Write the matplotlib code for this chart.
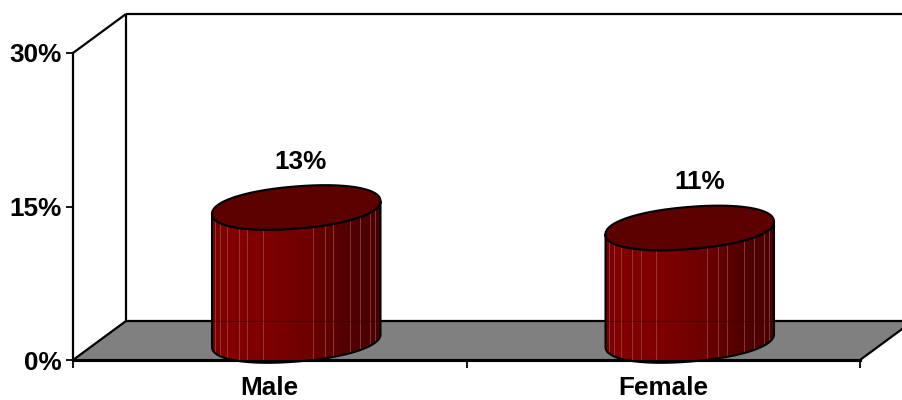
import numpy as np
import matplotlib
matplotlib.use("Agg")
import matplotlib.pyplot as plt
from matplotlib.patches import Polygon
from matplotlib.colors import LinearSegmentedColormap

categories = ["Male", "Female"]
values = [13, 11]
value_labels = ["13%", "11%"]
y_ticks = [0, 15, 30]
y_tick_labels = ["0%", "15%", "30%"]

plt.rcParams["font.family"] = ["Liberation Sans", "DejaVu Sans"]
W, H = 902, 400
fig = plt.figure(figsize=(W / 100, H / 100), dpi=100)
fig.patch.set_facecolor("white")
ax = fig.add_axes([73 / W, 40 / H, 787 / W, 307 / H])
ax.set_xlim(0, 2)
ax.set_ylim(0, 30)
ax.patch.set_visible(False)

SX = 787 / 2      # px per category
SY = 307 / 30     # px per percent
DEPTH_X = 53 / SX
DEPTH_Y = 39 / SY
K = dict(color="black", clip_on=False, solid_capstyle="butt")

# floor
floor = Polygon([(0, 0), (2, 0), (2 + DEPTH_X, DEPTH_Y), (DEPTH_X, DEPTH_Y)],
                closed=True, facecolor="#808080", edgecolor="none", clip_on=False, zorder=1)
ax.add_patch(floor)
ax.plot([0, 2], [0, 0], lw=2.2, zorder=2, **K)
ax.plot([2, 2 + DEPTH_X], [0, DEPTH_Y], lw=1.6, zorder=2, **K)
ax.plot([DEPTH_X, 2 + DEPTH_X], [DEPTH_Y, DEPTH_Y], lw=1.6, zorder=2, **K)
ax.plot([0, DEPTH_X], [0, DEPTH_Y], lw=1.6, zorder=2, **K)
# walls
ax.plot([DEPTH_X, DEPTH_X], [DEPTH_Y, 30 + DEPTH_Y], lw=1.6, zorder=2, **K)
ax.plot([DEPTH_X, 2 + DEPTH_X], [30 + DEPTH_Y, 30 + DEPTH_Y], lw=1.6, zorder=2, **K)
ax.plot([0, DEPTH_X], [30, 30 + DEPTH_Y], lw=1.6, zorder=2, **K)

# cylinders
A, B, PHI, ROUND = 84.5, 21.0, np.radians(4.7), 2.15
shade = LinearSegmentedColormap.from_list(
    "cyl", [(0, "#700000"), (0.06, "#820000"), (0.35, "#7c0000"), (0.6, "#6c0000"),
            (0.8, "#520000"), (1, "#480000")])
stripe_pos = [0.02, 0.05, 0.09, 0.16, 0.21, 0.3, 0.6, 0.67, 0.72, 0.82, 0.88, 0.94, 0.97]


def ellipse(cx, val):
    t = np.linspace(0, 2 * np.pi, 361)[:-1]
    c = np.sign(np.cos(t)) * np.abs(np.cos(t)) ** (2 / ROUND)
    s = np.sign(np.sin(t)) * np.abs(np.sin(t)) ** (2 / ROUND)
    dx = A * c * np.cos(PHI) - B * s * np.sin(PHI)
    dy = A * c * np.sin(PHI) + B * s * np.cos(PHI)
    return cx + dx / SX, val + dy / SY


for i, (cat, val, lab) in enumerate(zip(categories, values, value_labels)):
    cx = i + 0.5 + DEPTH_X / 2
    base = DEPTH_Y / 2
    top = val + DEPTH_Y / 2
    xt, yt = ellipse(cx, top)
    xb, yb = ellipse(cx, base)
    il, ir = int(np.argmin(xt)), int(np.argmax(xt))
    # lower arc from the left tangent point through the bottom to the right one
    idx = np.arange(il, ir + 361 if ir < il else ir + 1) % 360
    body = np.vstack([np.column_stack([xt[idx], yt[idx]]),
                      np.column_stack([xb[idx[::-1]], yb[idx[::-1]]])])
    outline = Polygon(body, closed=True, facecolor="none", edgecolor="black",
                      lw=1.5, clip_on=False, zorder=6, joinstyle="round")
    clip = Polygon(body, closed=True, transform=ax.transData)
    xl, xr = xt.min(), xt.max()
    xe = np.linspace(xl, xr, 120)
    ye = np.array([yb.min(), yt.max()])
    g = ax.pcolormesh(xe, ye, (0.5 * (xe[:-1] + xe[1:]) - xl)[None, :] / (xr - xl),
                      cmap=shade, vmin=0, vmax=1, zorder=4, rasterized=True)
    g.set_clip_path(clip)
    g.set_clip_on(True)
    for s in stripe_pos:
        ln, = ax.plot([xl + s * (xr - xl)] * 2, [yb.min(), yt.max()], color="#b06060",
                      lw=0.7, alpha=0.55, zorder=5)
        ln.set_clip_path(clip)
    # faint seam where the back floor line meets the cylinder
    sm, = ax.plot([xl, xr], [DEPTH_Y, DEPTH_Y], color="#400000", lw=0.8, alpha=0.5, zorder=5)
    sm.set_clip_path(clip)
    ax.add_patch(outline)
    ax.add_patch(Polygon(np.column_stack([xt, yt]), closed=True, facecolor="#5c0000",
                         edgecolor="black", lw=1.5, clip_on=False, zorder=7))
    ax.annotate(lab, (cx, top), xytext=([3, 7][i], 33), textcoords="offset points",
                ha="center", va="center", fontsize=18.8, fontweight="bold", zorder=8)

# axes
for s in ("top", "right"):
    ax.spines[s].set_visible(False)
ax.spines["left"].set_linewidth(1.6)
ax.spines["left"].set_zorder(3)
ax.spines["bottom"].set_linewidth(2.2)
ax.spines["bottom"].set_zorder(3)
ax.set_yticks(y_ticks)
ax.set_yticklabels(y_tick_labels, fontsize=18.8, fontweight="bold")
ax.tick_params(axis="y", length=5, width=1.3, pad=3)
ax.set_xticks([0, 1, 2])
ax.set_xticklabels([])
ax.tick_params(axis="x", which="major", length=5.5, width=1.3)
ax.set_xticks([0.5, 1.5], minor=True)
ax.set_xticklabels(categories, minor=True, fontsize=18.8, fontweight="bold")
ax.tick_params(axis="x", which="minor", length=0, pad=11.5)

fig.savefig("out.png", dpi=100)
